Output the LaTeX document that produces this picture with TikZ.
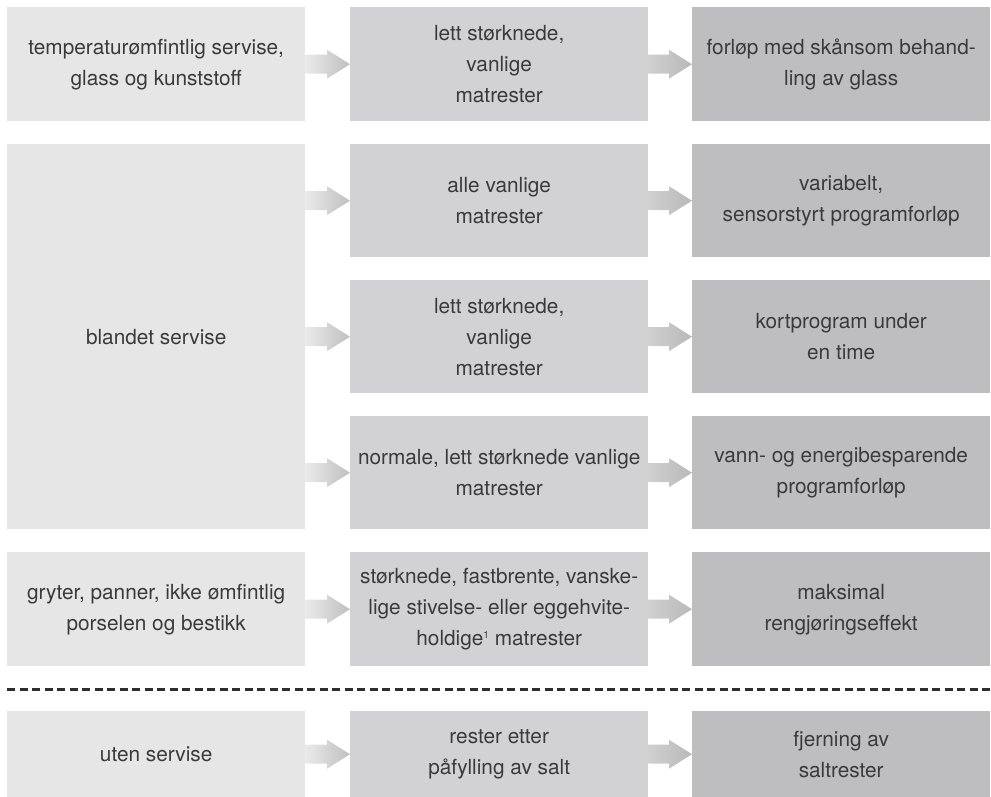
\documentclass[tikz,border=0pt]{standalone}
\usepackage{fontspec}
\setmainfont{TeX Gyre Heros}
\usetikzlibrary{calc}
\definecolor{cA}{HTML}{E6E6E7}
\definecolor{cB}{HTML}{D2D2D4}
\definecolor{cC}{HTML}{BEBEC1}
\definecolor{txt}{HTML}{3A3A3A}
\definecolor{dashc}{HTML}{2E2E2E}
\definecolor{arA1}{HTML}{EAEAEA}
\definecolor{arA2}{HTML}{BFBFBF}
\definecolor{arB1}{HTML}{D0D0D0}
\definecolor{arB2}{HTML}{B9B9B9}
\tikzset{
  box/.style={anchor=north west, inner sep=0pt, minimum width=298pt, align=center,
    text=txt, font=\fontsize{20.8}{31}\selectfont},
  boxA/.style={box, fill=cA},
  boxB/.style={box, fill=cB},
  boxC/.style={box, fill=cC},
  arrowA/.style={left color=arA1, right color=arA2},
  arrowB/.style={left color=arB1, right color=arB2},
  sepline/.style={draw=dashc, line width=3pt, dash pattern=on 8pt off 4.5pt}
}
\newcommand\fatarrow[3]{%
  \path[#1] let \p1=(#2.east), \p2=(#3.west) in
    (\x1,\y2+9.5pt) -- (\x2-23pt,\y2+9.5pt) -- (\x2-23pt,\y2+14.5pt) -- (\x2,\y2)
    -- (\x2-23pt,\y2-14.5pt) -- (\x2-23pt,\y2-9.5pt) -- (\x1,\y2-9.5pt) -- cycle;}
\newcommand\supone{\raisebox{0.62ex}{\fontsize{10}{10}\selectfont 1}}
\begin{document}
\begin{tikzpicture}[x=1pt,y=1pt]
\useasboundingbox (0,0) rectangle (991,-797);
% row 1
\node[boxA, minimum height=114pt] (a1) at (7,-7) {temperaturømfintlig servise,\\glass og kunststoff};
\node[boxB, minimum height=114pt] (b1) at (350,-7) {lett størknede,\\vanlige\\matrester};
\node[boxC, minimum height=114pt] (c1) at (692,-7) {forløp med skånsom behand-\\ling av glass};
% row 2
\node[boxA, minimum height=385pt] (a2) at (7,-144) {blandet servise};
\node[boxB, minimum height=113pt] (b2) at (350,-144) {alle vanlige\\matrester};
\node[boxC, minimum height=113pt] (c2) at (692,-144) {variabelt,\\sensorstyrt programforløp};
\node[boxB, minimum height=113pt] (b3) at (350,-280) {lett størknede,\\vanlige\\matrester};
\node[boxC, minimum height=113pt] (c3) at (692,-280) {kortprogram under\\en time};
\node[boxB, minimum height=113pt] (b4) at (350,-416) {normale, lett størknede vanlige\\matrester};
\node[boxC, minimum height=113pt] (c4) at (692,-416) {vann- og energibesparende\\programforløp};
% row 3
\node[boxA, minimum height=114pt] (a5) at (7,-552) {gryter, panner, ikke ømfintlig\\porselen og bestikk};
\node[boxB, minimum height=114pt] (b5) at (350,-552) {størknede, fastbrente, vanske-\\lige stivelse- eller eggehvite-\\holdige\supone{} matrester};
\node[boxC, minimum height=114pt] (c5) at (692,-552) {maksimal\\rengjøringseffekt};
% separator
\coordinate (sl) at (7,-689);
\coordinate (sr) at (991,-689);
\draw[sepline] (sl) -- (sr);
% row 4
\node[boxA, minimum height=86pt] (a6) at (7,-711) {uten servise};
\node[boxB, minimum height=86pt] (b6) at (350,-711) {rester etter\\påfylling av salt};
\node[boxC, minimum height=86pt] (c6) at (692,-711) {fjerning av\\saltrester};
% arrows
\fatarrow{arrowA}{a1}{b1}
\fatarrow{arrowB}{b1}{c1}
\fatarrow{arrowA}{a2}{b2}
\fatarrow{arrowB}{b2}{c2}
\fatarrow{arrowA}{a2}{b3}
\fatarrow{arrowB}{b3}{c3}
\fatarrow{arrowA}{a2}{b4}
\fatarrow{arrowB}{b4}{c4}
\fatarrow{arrowA}{a5}{b5}
\fatarrow{arrowB}{b5}{c5}
\fatarrow{arrowA}{a6}{b6}
\fatarrow{arrowB}{b6}{c6}
\end{tikzpicture}
\end{document}
